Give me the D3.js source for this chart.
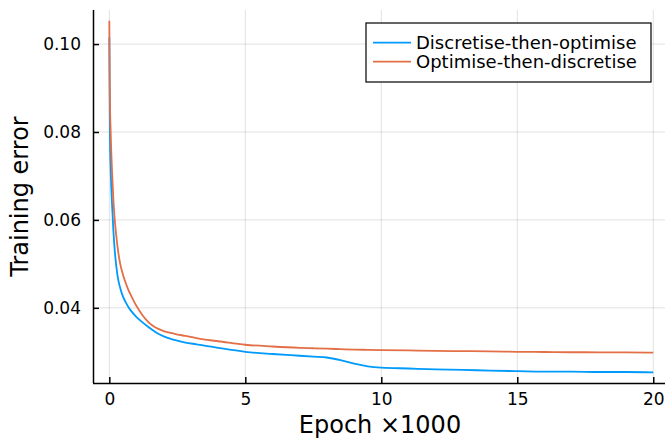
<!DOCTYPE html>
<html>
<head>
<meta charset="utf-8">
<script src="https://cdn.jsdelivr.net/npm/d3@7"></script>
<style>
  html, body { margin: 0; padding: 0; background: #fff; }
  svg { display: block; font-family: "DejaVu Sans", sans-serif; }
</style>
</head>
<body>
<svg id="chart" width="665" height="442"></svg>
<script>
// ---- data (epoch ×1000) ----
const epochs = [0, 0.02, 0.05, 0.1, 0.15, 0.2, 0.3, 0.4, 0.5, 0.6, 0.7, 0.8, 1.0, 1.2, 1.4, 1.6, 1.8, 2.0, 2.4, 2.8, 3.2, 3.6, 4, 5, 6, 7, 7.5, 8, 8.5, 9, 9.5, 10, 11, 12, 13, 14, 15, 16, 17, 18, 19, 20];
const discretiseThenOptimise = [0.1015, 0.080, 0.0715, 0.0635, 0.0575, 0.0530, 0.0474, 0.0445, 0.0426, 0.0413, 0.0402, 0.0393, 0.0379, 0.0368, 0.0358, 0.0349, 0.0341, 0.0335, 0.0327, 0.0321, 0.0317, 0.0313, 0.0309, 0.0300, 0.0295, 0.0291, 0.0289, 0.0287, 0.0281, 0.0273, 0.0267, 0.0264, 0.0262, 0.0260, 0.0259, 0.0257, 0.0256, 0.0255, 0.0255, 0.0254, 0.0254, 0.0253];
const optimiseThenDiscretise = [0.1053, 0.088, 0.080, 0.0710, 0.0645, 0.0600, 0.0540, 0.0500, 0.0476, 0.0457, 0.0441, 0.0428, 0.0404, 0.0385, 0.0370, 0.0359, 0.0352, 0.0347, 0.0341, 0.0336, 0.0331, 0.0327, 0.0324, 0.0316, 0.0312, 0.0309, 0.0308, 0.0307, 0.0306, 0.0305, 0.03045, 0.0304, 0.0303, 0.0302, 0.03015, 0.0301, 0.0300, 0.02995, 0.0299, 0.02988, 0.02985, 0.0298];
const seriesNames = ["Discretise-then-optimise", "Optimise-then-discretise"];
const seriesColors = ["#009AFA", "#E36F47"];
const xTicks = [0, 5, 10, 15, 20];
const yTicks = [0.04, 0.06, 0.08, 0.10];
const xLabel = "Epoch \u00d71000";
const yLabel = "Training error";

const series = [discretiseThenOptimise, optimiseThenDiscretise];

const svg = d3.select("#chart");
const pLeft = 93, pRight = 669.6, pTop = 10, pBottom = 383;

const x = d3.scaleLinear().domain([-0.6, 20.6]).range([pLeft, pRight]);
const y = d3.scaleLinear().domain([0.0229, 0.10775]).range([pBottom, pTop]);

// grid
const grid = svg.append("g");
grid.selectAll("line.vx").data(xTicks).join("line")
  .attr("x1", d => x(d)).attr("x2", d => x(d))
  .attr("y1", pTop).attr("y2", pBottom)
  .attr("stroke", "#000").attr("stroke-opacity", 0.12).attr("stroke-width", 1);
grid.selectAll("line.hy").data(yTicks).join("line")
  .attr("x1", pLeft).attr("x2", pRight)
  .attr("y1", d => y(d)).attr("y2", d => y(d))
  .attr("stroke", "#000").attr("stroke-opacity", 0.12).attr("stroke-width", 1);

// lines
const line = d3.line().x(d => x(d[0])).y(d => y(d[1])).curve(d3.curveMonotoneX);
series.forEach((vals, i) => {
  svg.append("path")
    .datum(epochs.map((e, j) => [e, vals[j]]))
    .attr("fill", "none")
    .attr("stroke", seriesColors[i])
    .attr("stroke-width", 1.8)
    .attr("stroke-linejoin", "round")
    .attr("d", line);
});

// axes
const xAxis = svg.append("g").attr("transform", `translate(0,${pBottom})`)
  .call(d3.axisBottom(x).tickValues(xTicks).tickFormat(d3.format("d")).tickSizeInner(-6).tickSizeOuter(0).tickPadding(10));
const yAxis = svg.append("g").attr("transform", `translate(${pLeft},0)`)
  .call(d3.axisLeft(y).tickValues(yTicks).tickFormat(d3.format(".2f")).tickSizeInner(-6).tickSizeOuter(0).tickPadding(12));
[xAxis, yAxis].forEach(a => {
  a.select(".domain").attr("stroke", "#000").attr("stroke-width", 1.5);
  a.selectAll(".tick line").attr("stroke", "#000").attr("stroke-width", 1.5);
  a.selectAll("text").attr("font-family", "DejaVu Sans").attr("font-size", 17).attr("fill", "#000");
});
xAxis.select(".domain").attr("d", `M${pLeft},0.5H${pRight}`);
yAxis.select(".domain").attr("d", `M0.5,${pBottom}V${pTop}`);

// axis labels
svg.append("text").attr("x", 380).attr("y", 433).attr("text-anchor", "middle")
  .attr("font-size", 24).attr("fill", "#000").text(xLabel);
svg.append("text").attr("transform", `translate(27.5,${(pTop + pBottom) / 2}) rotate(-90)`)
  .attr("text-anchor", "middle").attr("font-size", 24).attr("fill", "#000").text(yLabel);

// legend
const lg = svg.append("g");
lg.append("rect").attr("x", 366).attr("y", 23).attr("width", 285).attr("height", 59)
  .attr("fill", "#fff").attr("stroke", "#000").attr("stroke-width", 1.2);
seriesNames.forEach((name, i) => {
  const cy = 42.7 + i * 19;
  lg.append("line").attr("x1", 373).attr("x2", 411).attr("y1", cy).attr("y2", cy)
    .attr("stroke", seriesColors[i]).attr("stroke-width", 1.8);
  lg.append("text").attr("x", 416).attr("y", cy).attr("dy", "0.36em")
    .attr("font-size", 18).attr("fill", "#000").text(name);
});
</script>
</body>
</html>
